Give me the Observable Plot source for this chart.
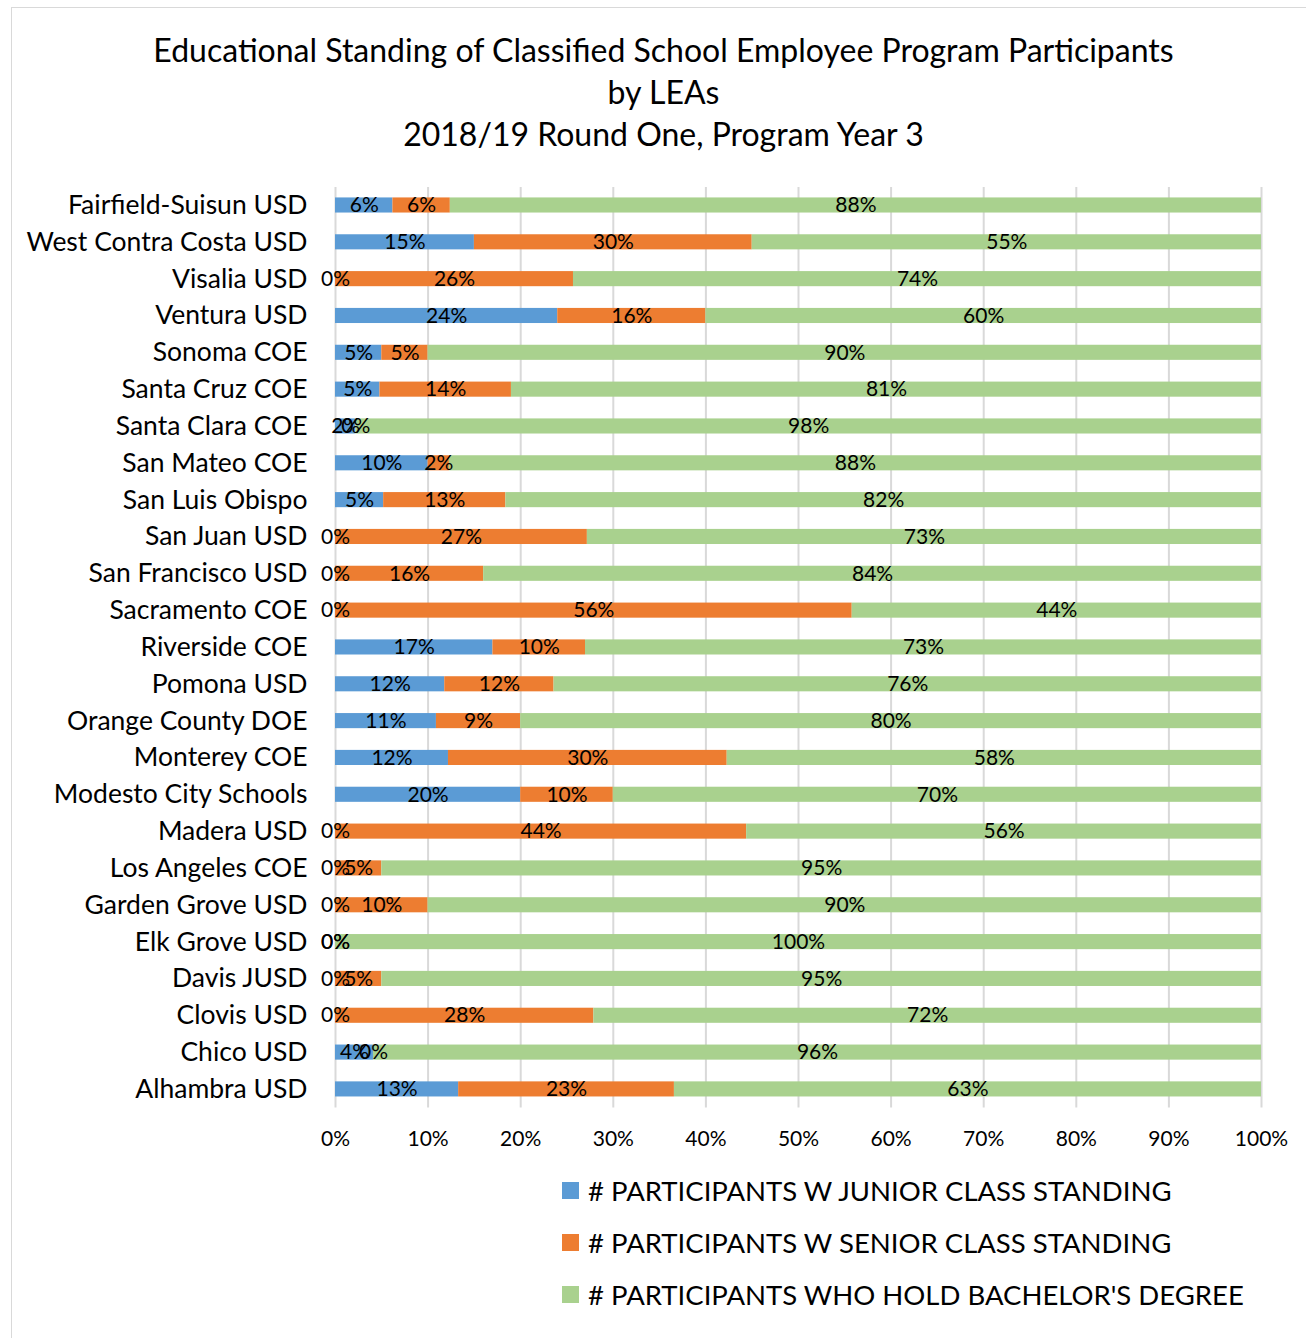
<!DOCTYPE html>
<html><head><meta charset="utf-8">
<script src="https://cdn.jsdelivr.net/npm/d3@7"></script>
<script src="https://cdn.jsdelivr.net/npm/@observablehq/plot@0.6"></script>
<style>
body{margin:0;background:#fff;font-family:Lato,"Open Sans",sans-serif;color:#000;width:1306px;height:1338px;overflow:hidden;position:relative;}
#frame{position:absolute;left:11px;top:7px;width:1400px;height:1400px;border-left:1.5px solid #d9d9d9;border-top:1.5px solid #d9d9d9;}
#chart{position:absolute;left:0;top:0;}
#title{position:absolute;left:0;width:1327px;top:29px;text-align:center;font-size:32px;line-height:42px;}
#legend{position:absolute;left:562px;top:1164px;font-size:27.5px;}
.li{display:flex;align-items:center;height:52px;}
.sw{width:17px;height:17px;margin-right:9px;}
</style></head>
<body>
<div id="frame"></div>
<div id="chart"></div>
<div id="title">Educational Standing of Classified School Employee Program Participants<br>by LEAs<br>2018/19 Round One, Program Year 3</div>
<div id="legend"></div>
<script>
const leas = ["Fairfield-Suisun USD","West Contra Costa USD","Visalia USD","Ventura USD","Sonoma COE","Santa Cruz COE","Santa Clara COE","San Mateo COE","San Luis Obispo","San Juan USD","San Francisco USD","Sacramento COE","Riverside COE","Pomona USD","Orange County DOE","Monterey COE","Modesto City Schools","Madera USD","Los Angeles COE","Garden Grove USD","Elk Grove USD","Davis JUSD","Clovis USD","Chico USD","Alhambra USD"];
const junior   = [6.2,15,0,24,5,4.8,2.2,10,5.2,0,0,0,17,11.8,10.9,12.2,20,0,0,0,0,0,0,4.1,13.3];
const senior   = [6.2,30,25.7,16,5,14.2,0,2.3,13.2,27.2,16,55.8,10,11.8,9.1,30.1,10,44.4,5,10,0,5,27.9,0,23.3];
const bachelor = [87.6,55,74.3,60,90,81,97.8,87.7,81.6,72.8,84,44.2,73,76.4,80,57.7,70,55.6,95,90,100,95,72.1,95.9,63.4];
const seriesNames = ["# PARTICIPANTS W JUNIOR CLASS STANDING","# PARTICIPANTS W SENIOR CLASS STANDING","# PARTICIPANTS WHO HOLD BACHELOR'S DEGREE"];
const seriesColors = ["#5B9BD5","#ED7D31","#A9D18E"];
const xTicks = [0,10,20,30,40,50,60,70,80,90,100];

const seriesValues = [junior, senior, bachelor];
const data = [];
seriesNames.forEach((s, si) => leas.forEach((l, i) => data.push({lea: l, series: s, value: seriesValues[si][i]})));

const H = 1170;
const plotTop = 175.7, plotBottom = 1118.2;
const chart = Plot.plot({
  width: 1306, height: H,
  marginLeft: 335, marginRight: 45, marginTop: plotTop, marginBottom: H - plotBottom,
  style: {fontFamily: "Lato, 'Open Sans', sans-serif", color: "#000", background: "transparent"},
  x: {domain: [0, 100], ticks: xTicks, tickFormat: d => d + "%"},
  y: {domain: leas, padding: 0.59, round: false, label: null},
  color: {domain: seriesNames, range: seriesColors},
  marks: [
    Plot.gridX(xTicks, {stroke: "#d9d9d9", strokeOpacity: 1, strokeWidth: 2, insetTop: 187 - plotTop, insetBottom: plotBottom - 1107.4}),
    Plot.barX(data, Plot.stackX({x: "value", y: "lea", fill: "series", z: "series"})),
    Plot.text(data, Plot.stackX({x: "value", y: "lea", z: "series", text: d => Math.round(d.value) + "%", fontSize: 21, fill: "#000"})),
    Plot.axisX(xTicks, {tickSize: 0, tickPadding: 12, fontSize: 21, label: null, tickFormat: d => d + "%"}),
    Plot.axisY({tickSize: 0, tickPadding: 28, fontSize: 26.5, label: null})
  ]
});
document.getElementById("chart").appendChild(chart);

const lg = document.getElementById("legend");
seriesNames.forEach((s, i) => {
  const row = document.createElement("div"); row.className = "li";
  const sw = document.createElement("div"); sw.className = "sw"; sw.style.background = seriesColors[i];
  const t = document.createElement("span"); t.textContent = s;
  row.appendChild(sw); row.appendChild(t); lg.appendChild(row);
});
</script>
</body></html>
